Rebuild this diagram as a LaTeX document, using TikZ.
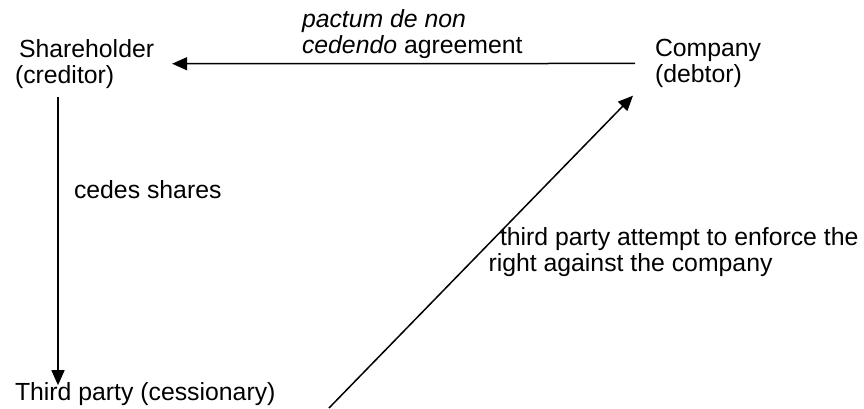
\documentclass[tikz,border=0pt]{standalone}
\usepackage{fontspec}
\setmainfont{Liberation Sans}
\usetikzlibrary{arrows.meta}
\begin{document}
\begin{tikzpicture}[x=1pt,y=-1pt,
  lbl/.style={inner sep=0pt, outer sep=0pt, align=left, anchor=north west,
    font=\fontsize{24.8}{26}\selectfont},
  arr/.style={line width=1.5pt, -{Triangle[length=15pt,width=13pt]}},
  ln/.style={line width=1.5pt}]
\useasboundingbox (0,0) rectangle (864,408);
\node[lbl] (sh) at (15,39.2) {\hspace{4pt}Shareholder\\(creditor)};
\node[lbl] (co) at (655,39.2) {Company\\(debtor)};
\node[lbl] (pact) at (302,9.2) {\textit{pactum de non}\\\textit{cedendo} agreement};
\node[lbl] (ced) at (74,180.2) {cedes shares};
\node[lbl] (tp) at (15,382.2) {Third party (cessionary)};
\node[lbl] (att) at (488.5,227.7) {\hspace{11.5pt}third party attempt to enforce the\\right against the company};
\coordinate (dstart) at (329,408);
\draw[arr] (co.west) -- (sh.east) [shorten <=20pt, shorten >=18pt];
\draw[arr] ([xshift=43pt,yshift=-9pt]sh.south west) -- ([xshift=43pt,yshift=-3pt]tp.north west);
\draw[arr] (dstart) -- ([xshift=-22pt,yshift=-8pt]co.south west);
\end{tikzpicture}
\end{document}
